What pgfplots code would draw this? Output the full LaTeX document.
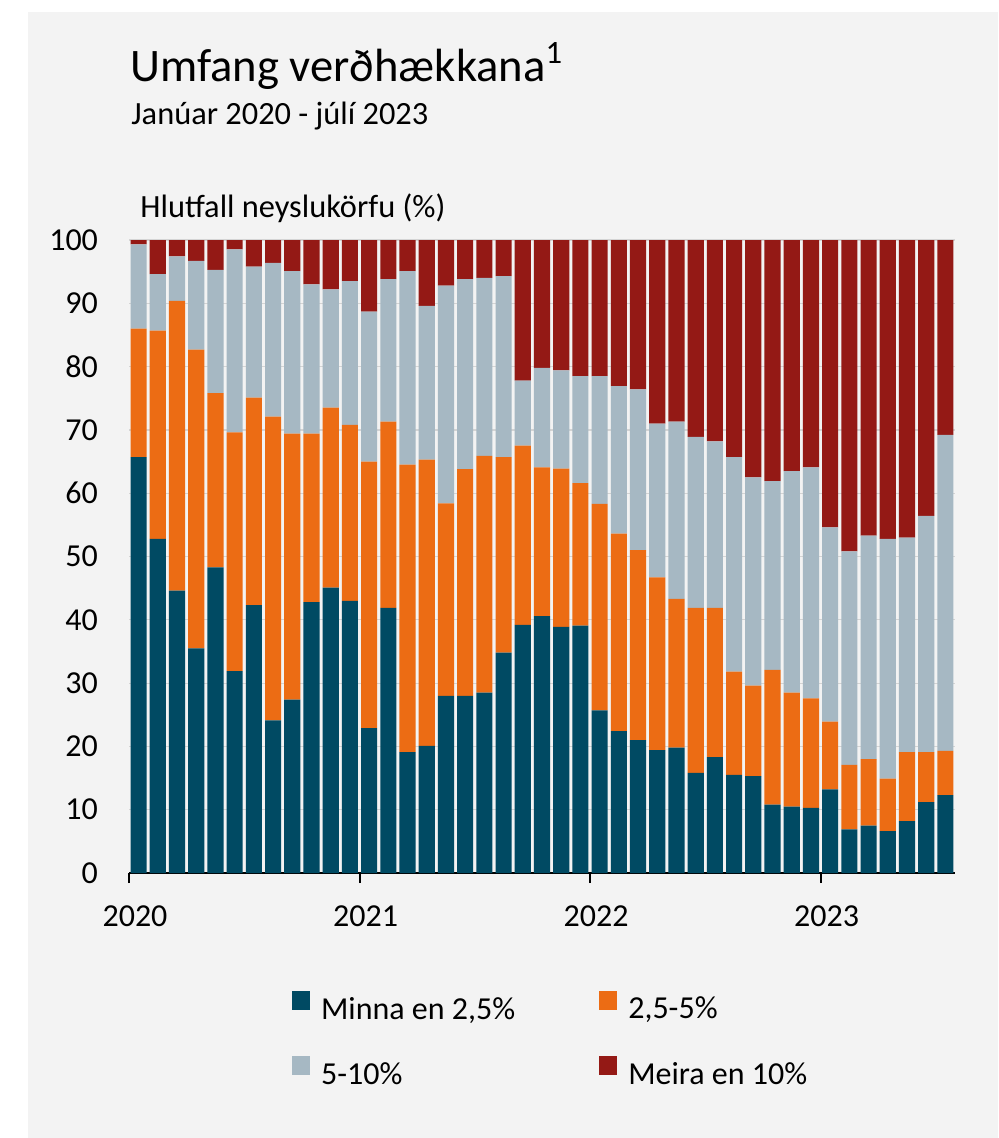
\documentclass[border=0pt]{standalone}
\usepackage{fontspec}
\setmainfont{Carlito}
\usepackage{pgfplots}
\pgfplotsset{compat=1.18}
\usepackage{pgfplotstable}

\definecolor{bgc}{HTML}{F3F3F3}
\definecolor{cblue}{HTML}{004A63}
\definecolor{corange}{HTML}{EC6C14}
\definecolor{cgrey}{HTML}{A6B8C3}
\definecolor{cred}{HTML}{941915}

% manuðir 0..42 (jan 2020 - jul 2023), stoplar miðjaðir a i+0.5
\pgfplotstableread{
x a b c d
0.5 65.7 20.3 13.3 0.7
1.5 52.8 32.9 8.9 5.4
2.5 44.6 45.8 7.0 2.6
3.5 35.5 47.2 14.0 3.3
4.5 48.3 27.5 19.5 4.7
5.5 31.9 37.7 28.9 1.5
6.5 42.3 32.8 20.7 4.2
7.5 24.1 48.0 24.3 3.6
8.5 27.4 42.0 25.7 4.9
9.5 42.8 26.6 23.6 7.0
10.5 45.1 28.4 18.7 7.8
11.5 43.0 27.8 22.7 6.5
12.5 22.9 42.1 23.7 11.3
13.5 41.9 29.4 22.5 6.2
14.5 19.1 45.4 30.6 4.9
15.5 20.1 45.2 24.3 10.4
16.5 28.0 30.4 34.4 7.2
17.5 28.0 35.8 30.0 6.2
18.5 28.5 37.4 28.1 6.0
19.5 34.8 30.9 28.6 5.7
20.5 39.2 28.3 10.3 22.2
21.5 40.6 23.5 15.7 20.2
22.5 38.9 25.0 15.5 20.6
23.5 39.1 22.5 16.9 21.5
24.5 25.7 32.6 20.2 21.5
25.5 22.4 31.2 23.3 23.1
26.5 21.0 30.0 25.4 23.6
27.5 19.4 27.3 24.3 29.0
28.5 19.8 23.5 28.0 28.7
29.5 15.8 26.1 27.0 31.1
30.5 18.3 23.6 26.3 31.8
31.5 15.5 16.3 33.9 34.3
32.5 15.3 14.3 32.9 37.5
33.5 10.8 21.3 29.8 38.1
34.5 10.5 18.0 35.0 36.5
35.5 10.3 17.3 36.5 35.9
36.5 13.2 10.7 30.7 45.4
37.5 6.9 10.2 33.7 49.2
38.5 7.5 10.5 35.3 46.7
39.5 6.6 8.3 37.9 47.2
40.5 8.2 10.9 33.9 47.0
41.5 11.2 7.9 37.3 43.6
42.5 12.3 7.0 49.9 30.8
}\verdh

\pgfplotsset{sq/.style={fill=#1, draw=none,
  legend image code/.code={\fill[#1] (0pt,0pt) rectangle (9pt,9.5pt);}}}

\begin{document}
\begin{tikzpicture}
\useasboundingbox (0,0) rectangle (499pt,-569pt);
\fill[white] (0,0) rectangle (499pt,-569pt);
\fill[bgc] (14pt,-6pt) rectangle (499pt,-569pt);
\node[anchor=base west, inner sep=0pt, font=\fontsize{23.3}{28}\selectfont] at (65pt,-41pt) {Umfang verðhækkana\textsuperscript{1}};
\node[anchor=base west, inner sep=0pt, font=\fontsize{16.2}{19}\selectfont] at (65.5pt,-62.5pt) {Janúar 2020 - júlí 2023};
\node[anchor=base west, inner sep=0pt, font=\fontsize{16.2}{19}\selectfont] at (70pt,-109pt) {Hlutfall neyslukörfu (\%)};
\begin{axis}[
  at={(64.5pt,-436.5pt)}, anchor=south west,
  scale only axis, width=413pt, height=316.5pt,
  ybar stacked, bar width=0.84,
  xmin=0, xmax=43, ymin=0, ymax=100,
  axis x line*=bottom, axis y line*=left,
  y axis line style={draw=none},
  x axis line style={line width=1pt, -},
  xtick={0,12,24,36}, xticklabels={2020,2021,2022,2023},
  xtick style={line width=1pt, black},
  tick align=outside, major tick length=5pt,
  ytick={0,10,...,100}, ytick style={draw=none},
  ymajorgrids, grid style={line width=0.6pt, color=black!17},
  /pgf/number format/assume math mode=true,
  tick label style={font=\fontsize{16}{19}\selectfont},
  yticklabel style={xshift=-7pt},
  xticklabel style={yshift=-8pt, xshift=3pt},
  legend columns=2,
  legend cell align=left,
  legend style={at={(rel axis cs:0.197,-0.185)}, anchor=north west,
    draw=none, fill=none, inner sep=0pt,
    font=\fontsize{16}{19}\selectfont,
    /tikz/every odd column/.append style={column sep=3.5pt},
    /tikz/every even column/.append style={column sep=40pt},
    row sep=15pt},
]
\addplot[sq=cblue] table[x=x, y=a] {\verdh};
\addplot[sq=corange] table[x=x, y=b] {\verdh};
\addplot[sq=cgrey] table[x=x, y=c] {\verdh};
\addplot[sq=cred] table[x=x, y=d] {\verdh};
\legend{{Minna en 2,5\%}, {2,5-5\%}, {5-10\%}, {Meira en 10\%}}
\end{axis}
\end{tikzpicture}
\end{document}
